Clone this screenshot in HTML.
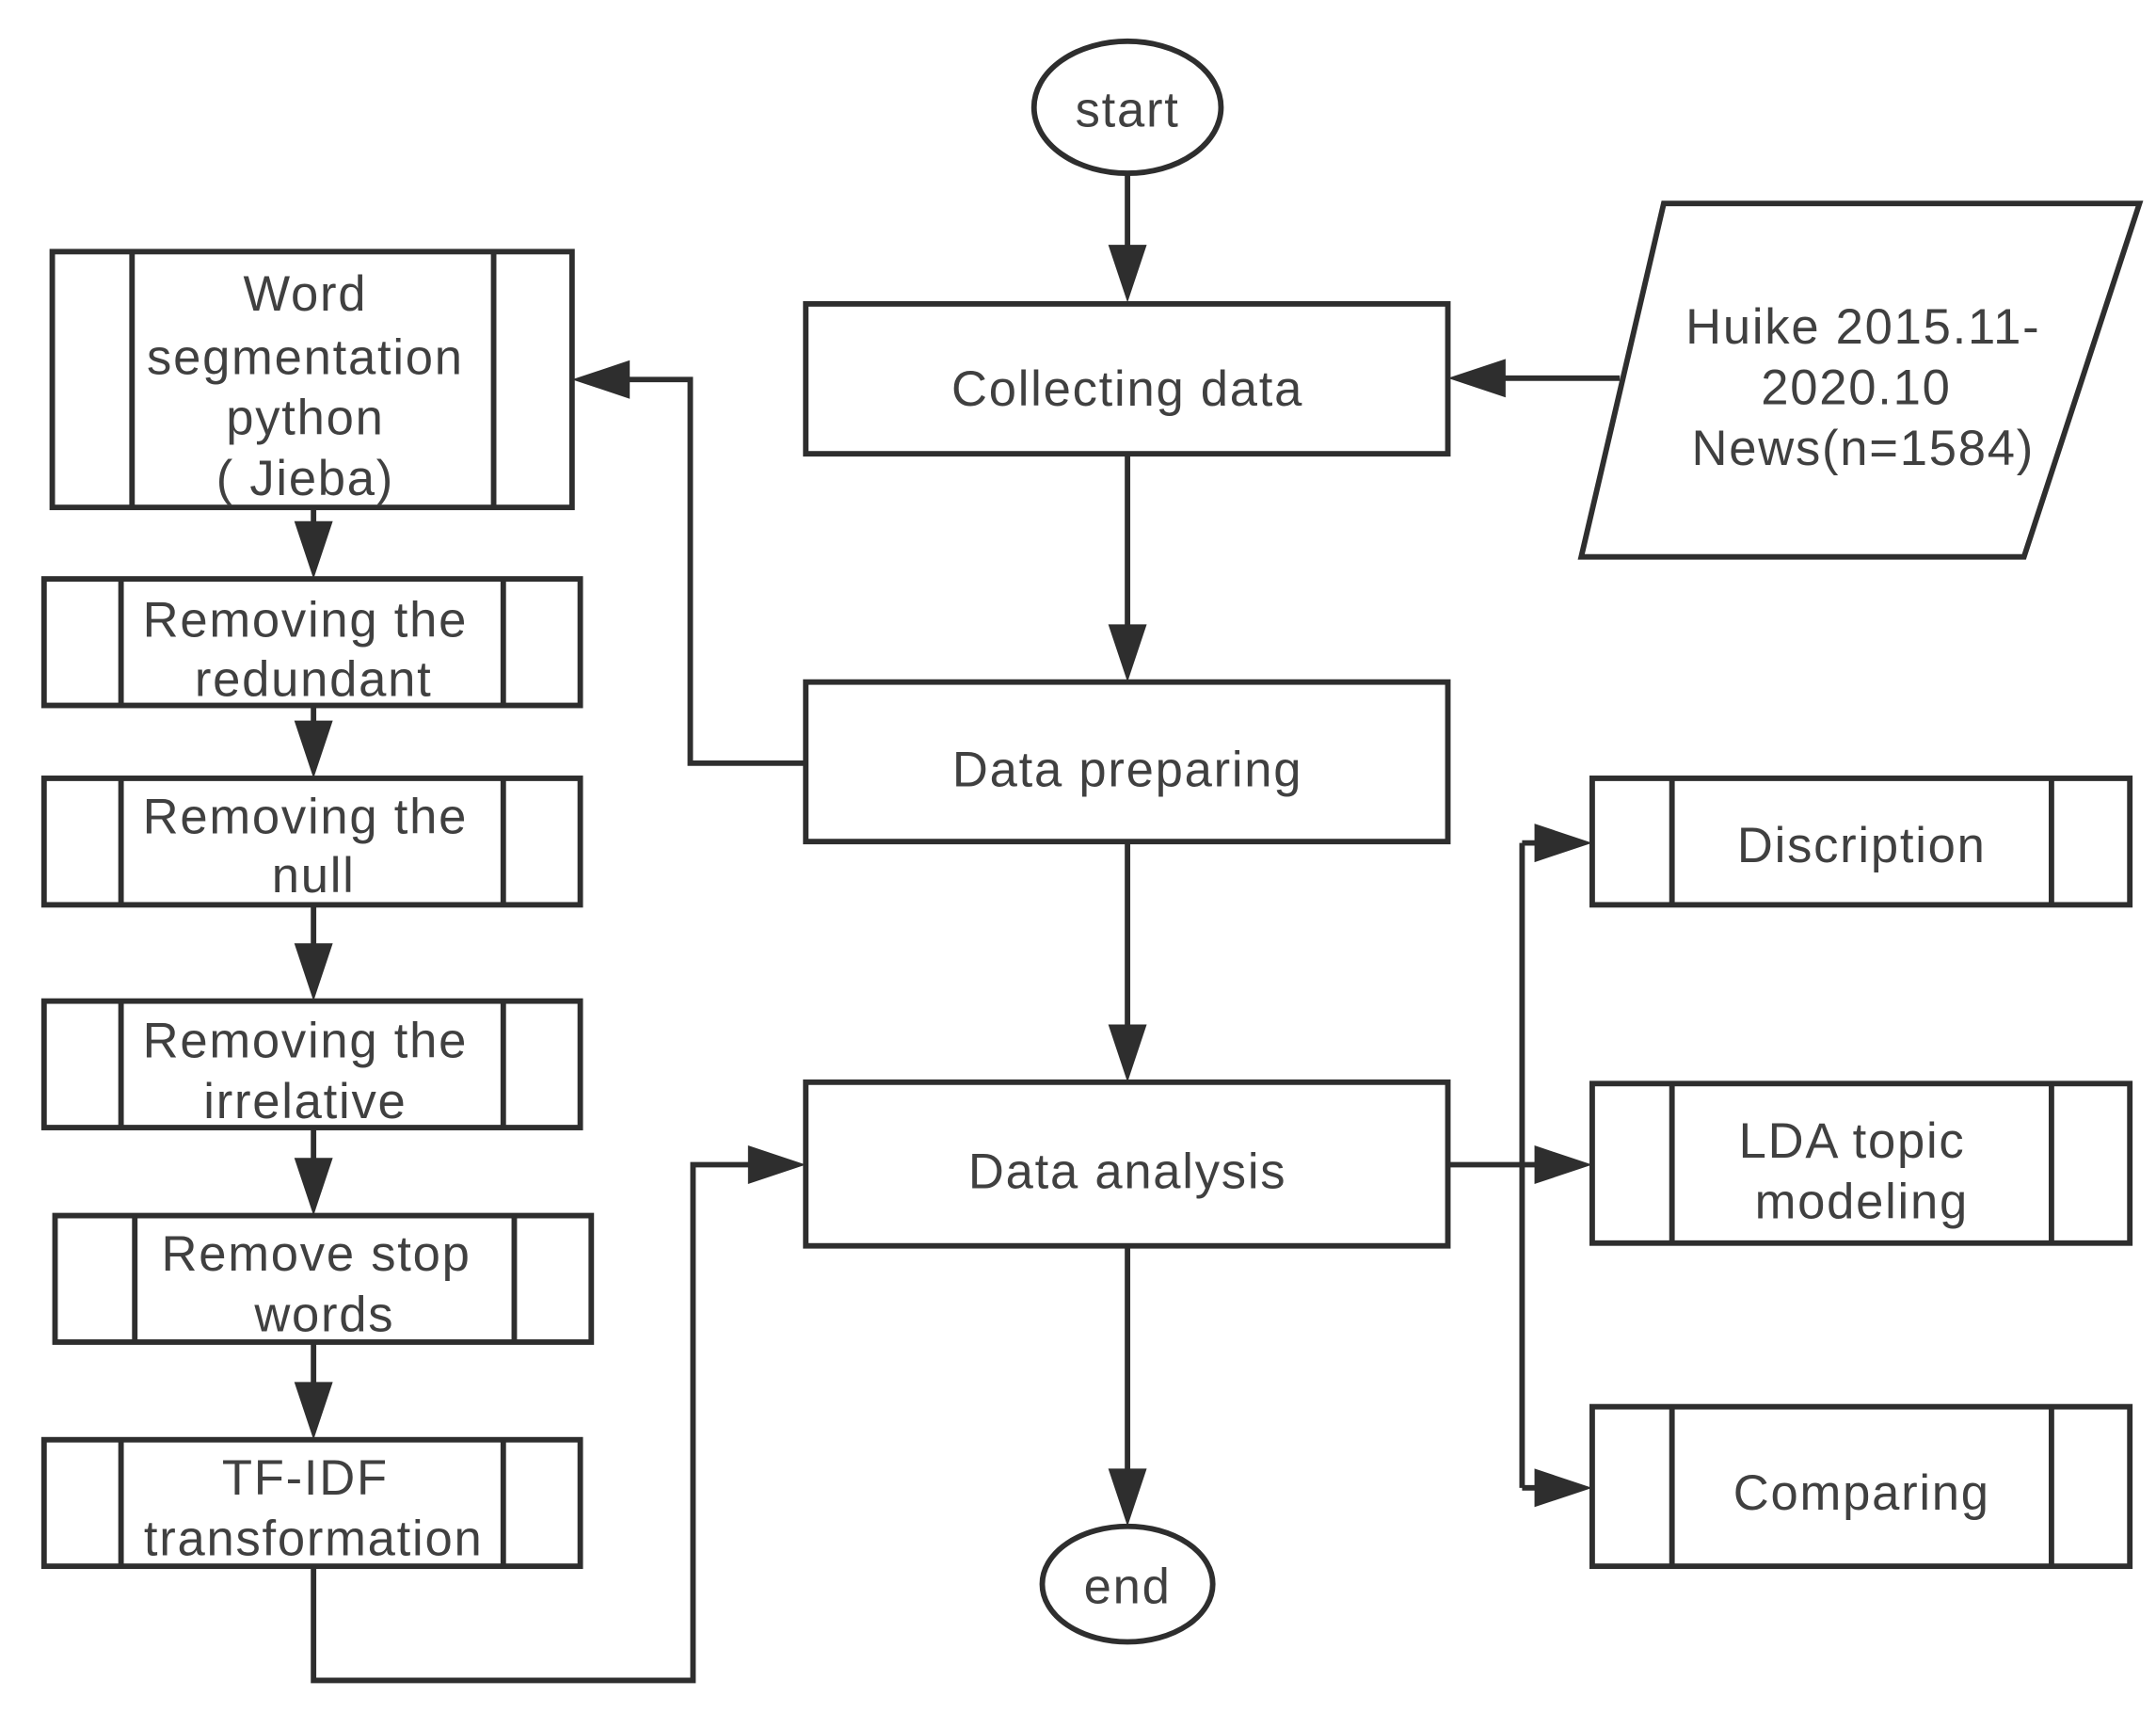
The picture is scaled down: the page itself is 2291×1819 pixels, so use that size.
<!DOCTYPE html>
<html><head><style>html,body{margin:0;padding:0;background:#fff}svg{display:block}</style></head>
<body>
<svg width="2291" height="1819" viewBox="0 0 1568 1245" xmlns="http://www.w3.org/2000/svg">
<g fill="none" stroke="#2e2e2e" stroke-width="4">
<ellipse cx="820" cy="78" rx="68" ry="48"/>
<rect x="586" y="221" width="467" height="109"/>
<polygon points="1210,148 1556,148 1472,405 1150,405"/>
<rect x="586" y="496" width="467" height="116"/>
<rect x="586" y="787" width="467" height="119"/>
<ellipse cx="820" cy="1152" rx="62" ry="42"/>
<rect x="38" y="183" width="378" height="186"/><path d="M96 183V369M359 183V369"/>
<rect x="32" y="421" width="390" height="92"/><path d="M88 421V513M366 421V513"/>
<rect x="32" y="566" width="390" height="92"/><path d="M88 566V658M366 566V658"/>
<rect x="32" y="728" width="390" height="92"/><path d="M88 728V820M366 728V820"/>
<rect x="40" y="884" width="390" height="92"/><path d="M98 884V976M374 884V976"/>
<rect x="32" y="1047" width="390" height="92"/><path d="M88 1047V1139M366 1047V1139"/>
<rect x="1158" y="566" width="391" height="92"/><path d="M1216 566V658M1492 566V658"/>
<rect x="1158" y="788" width="391" height="116"/><path d="M1216 788V904M1492 788V904"/>
<rect x="1158" y="1023" width="391" height="116"/><path d="M1216 1023V1139M1492 1023V1139"/>
<path d="M820 126V190M1178 275H1085M820 330V462M820 612V753M820 906V1076M586 555H502V276H450"/>
<path d="M228 369V390M228 513V535M228 658V695M228 820V852M228 976V1015"/>
<path d="M228 1139V1222H504V847H552"/>
<path d="M1053 847H1107M1107 613V1082M1107 613H1125M1107 847H1125M1107 1082H1125"/>
</g>
<g fill="#2e2e2e">
<polygon points="806,178 834,178 820,220"/>
<polygon points="806,454 834,454 820,496"/>
<polygon points="806,745 834,745 820,787"/>
<polygon points="806,1068 834,1068 820,1110"/>
<polygon points="1095,261 1095,289 1053,275"/>
<polygon points="458,262 458,290 416,276"/>
<polygon points="214,379 242,379 228,421"/>
<polygon points="214,524 242,524 228,566"/>
<polygon points="214,686 242,686 228,728"/>
<polygon points="214,842 242,842 228,884"/>
<polygon points="214,1005 242,1005 228,1047"/>
<polygon points="544,833 544,861 586,847"/>
<polygon points="1116,599 1116,627 1158,613"/>
<polygon points="1116,833 1116,861 1158,847"/>
<polygon points="1116,1068 1116,1096 1158,1082"/>
</g>
<g font-family="Liberation Sans, sans-serif" font-size="36" letter-spacing="1.2" fill="#404040" text-anchor="middle" dominant-baseline="central">
<text x="820" y="80">start</text>
<text x="820" y="283">Collecting data</text>
<text x="1355" y="238">Huike 2015.11-</text>
<text x="1350" y="282">2020.10</text>
<text x="1355" y="326">News(n=1584)</text>
<text x="820" y="560">Data preparing</text>
<text x="820" y="852">Data analysis</text>
<text x="820" y="1154">end</text>
<text x="222" y="214">Word</text>
<text x="222" y="260">segmentation</text>
<text x="222" y="304">python</text>
<text x="222" y="348">( Jieba)</text>
<text x="222" y="451">Removing the</text>
<text x="228" y="494">redundant</text>
<text x="222" y="594">Removing the</text>
<text x="228" y="637">null</text>
<text x="222" y="757">Removing the</text>
<text x="222" y="801">irrelative</text>
<text x="230" y="912">Remove stop</text>
<text x="236" y="956">words</text>
<text x="222" y="1075">TF-IDF</text>
<text x="228" y="1119">transformation</text>
<text x="1354" y="615">Discription</text>
<text x="1347" y="830">LDA topic</text>
<text x="1354" y="874">modeling</text>
<text x="1354" y="1086">Comparing</text>
</g>
</svg>
</body></html>
